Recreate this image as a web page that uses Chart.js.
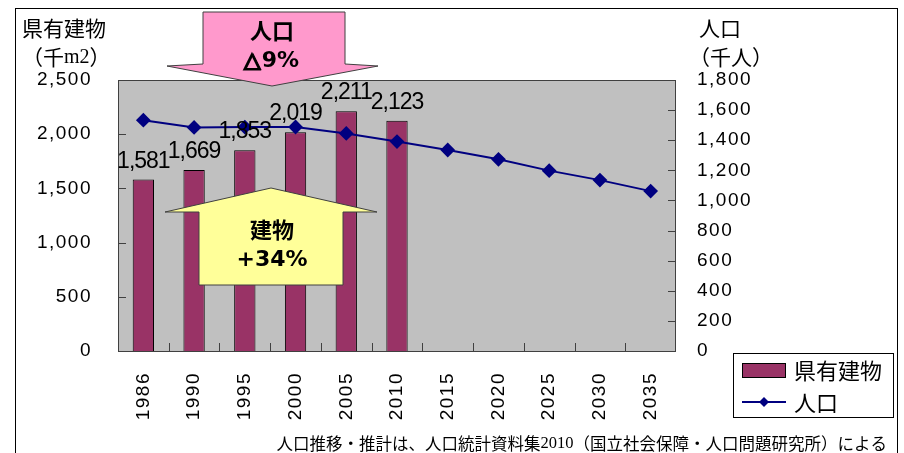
<!DOCTYPE html>
<html>
<head>
<meta charset="utf-8">
<script src="https://cdn.jsdelivr.net/npm/chart.js@4"></script>
<style>
  html, body { margin: 0; padding: 0; background: #fff; }
  #wrap { width: 904px; height: 453px; }
</style>
</head>
<body>
<div id="wrap"><canvas id="grafico" width="904" height="453"></canvas></div>
<script>
const anos = ["1986", "1990", "1995", "2000", "2005", "2010", "2015", "2020", "2025", "2030", "2035"];
const edificios = [1581, 1669, 1853, 2019, 2211, 2123, null, null, null, null, null];
const populacao = [1533, 1485, 1487, 1488, 1445, 1391, 1335, 1273, 1198, 1135, 1062];
const ticksEsq = [0, 500, 1000, 1500, 2000, 2500];
const ticksDir = [0, 200, 400, 600, 800, 1000, 1200, 1400, 1600, 1800];

const JP = '"Noto Sans CJK JP", sans-serif';
const NUM = '"Liberation Sans", Arial, sans-serif';

function seta(ctx, pts, cor) {
    ctx.beginPath();
    ctx.moveTo(pts[0][0], pts[0][1]);
    for (let i = 1; i < pts.length; i++) ctx.lineTo(pts[i][0], pts[i][1]);
    ctx.closePath();
    ctx.fillStyle = cor;
    ctx.fill();
    ctx.strokeStyle = "#404040";
    ctx.lineWidth = 1;
    ctx.stroke();
}

const fundo = {
    id: "fundo",
    beforeDraw(chart) {
        const ctx = chart.ctx;
        const a = chart.chartArea;
        ctx.save();
        ctx.fillStyle = "#fff";
        ctx.fillRect(0, 0, chart.width, chart.height);
        ctx.strokeStyle = "#000";
        ctx.lineWidth = 1;
        ctx.strokeRect(15.5, 8.5, 882, 460);
        ctx.fillStyle = "#C0C0C0";
        ctx.fillRect(a.left, a.top, a.right - a.left, a.bottom - a.top);
        ctx.strokeStyle = "#404040";
        ctx.strokeRect(a.left + 0.5, a.top + 0.5, a.right - a.left - 1, a.bottom - a.top);
        // marcas internas
        ctx.beginPath();
        ticksEsq.forEach(v => {
            const y = Math.round(chart.scales.y.getPixelForValue(v)) + 0.5;
            ctx.moveTo(a.left, y); ctx.lineTo(a.left + 8, y);
        });
        ticksDir.forEach(v => {
            const y = Math.round(chart.scales.y1.getPixelForValue(v)) + 0.5;
            ctx.moveTo(a.right - 8, y); ctx.lineTo(a.right, y);
        });
        const larg = (a.right - a.left) / anos.length;
        for (let i = 1; i < anos.length; i++) {
            const x = Math.round(a.left + i * larg) + 0.5;
            ctx.moveTo(x, a.bottom); ctx.lineTo(x, a.bottom - 8);
        }
        ctx.stroke();
        ctx.restore();
        ctx.letterSpacing = "1.5px";
    },
    afterDatasetsDraw(chart) {
        const ctx = chart.ctx;
        ctx.save();
        ctx.letterSpacing = "0px";
        // setas
        seta(ctx, [[203, 12], [345, 12], [345, 64], [378, 66], [272, 86], [167, 66], [203, 64]], "#FF99CC");
        seta(ctx, [[271, 188], [377, 212], [343, 212], [343, 285], [199, 285], [199, 212], [165, 212]], "#FFFF99");
        ctx.fillStyle = "#000";
        ctx.textAlign = "center";
        ctx.textBaseline = "middle";
        ctx.font = "bold 22px " + JP;
        ctx.fillText("人口", 272, 31);
        ctx.fillText("建物", 272, 230);
        ctx.font = 'bold 22px "DejaVu Sans", sans-serif';
        ctx.lineWidth = 1.2;
        ctx.strokeStyle = "#000";
        ctx.strokeText("△", 252, 61);
        ctx.fillText("△9%", 272, 61);
        ctx.fillText("+34%", 272, 260);

        // rótulos das barras
        const meta = chart.getDatasetMeta(0);
        ctx.font = "23px " + NUM;
        ctx.letterSpacing = "-1px";
        ctx.textBaseline = "alphabetic";
        meta.data.forEach((bar, i) => {
            if (edificios[i] == null) return;
            ctx.fillText(edificios[i].toLocaleString("en-US"), bar.x, bar.y - 12);
        });
        ctx.restore();
    },
    afterDraw(chart) {
        const ctx = chart.ctx;
        ctx.save();
        ctx.letterSpacing = "0px";
        ctx.fillStyle = "#000";
        ctx.textBaseline = "middle";
        ctx.textAlign = "left";
        // títulos dos eixos
        ctx.font = "21px " + JP;
        ctx.fillText("県有建物", 22, 28);
        ctx.fillText("人口", 699, 28);
        let x = 22;
        ctx.fillText("（千", x, 57);
        x += ctx.measureText("（千").width;
        ctx.font = '20px "Liberation Serif", serif';
        ctx.fillText("m2", x, 58);
        x += ctx.measureText("m2").width;
        ctx.font = "21px " + JP;
        ctx.fillText("）", x, 57);
        ctx.fillText("（千人）", 689, 57);

        // legenda
        ctx.strokeStyle = "#000";
        ctx.lineWidth = 1;
        ctx.strokeRect(733.5, 353.5, 160, 64);
        ctx.fillStyle = "#993366";
        ctx.fillRect(742, 363, 43, 14);
        ctx.strokeRect(742.5, 363.5, 43, 14);
        ctx.strokeStyle = "#000080";
        ctx.lineWidth = 2;
        ctx.beginPath();
        ctx.moveTo(742, 402); ctx.lineTo(786, 402);
        ctx.stroke();
        ctx.fillStyle = "#000080";
        ctx.beginPath();
        ctx.moveTo(764, 397); ctx.lineTo(769, 402); ctx.lineTo(764, 407); ctx.lineTo(759, 402);
        ctx.closePath();
        ctx.fill();
        ctx.fillStyle = "#000";
        ctx.font = "22px " + JP;
        ctx.fillText("県有建物", 794, 371);
        ctx.fillText("人口", 794, 403);

        // nota
        const partes = [
            ["人口推移・推計は、人口統計資料集", "16.5px " + JP],
            ["2010", '16.5px "Liberation Serif", serif'],
            ["（国立社会保障・人口問題研究所）による", "16.5px " + JP]
        ];
        let total = 0;
        partes.forEach(p => { ctx.font = p[1]; total += ctx.measureText(p[0]).width; });
        x = 887 - total;
        partes.forEach(p => {
            ctx.font = p[1];
            ctx.fillText(p[0], x, 444);
            x += ctx.measureText(p[0]).width;
        });
        ctx.restore();
    }
};

function criarGrafico() {
    const canvas = document.getElementById("grafico");
    new Chart(canvas, {
        type: "bar",
        data: {
            labels: anos,
            datasets: [
                {
                    label: "県有建物",
                    data: edificios,
                    yAxisID: "y",
                    backgroundColor: "#993366",
                    borderColor: "#000",
                    borderWidth: 1,
                    barPercentage: 0.42,
                    categoryPercentage: 1,
                    order: 2
                },
                {
                    type: "line",
                    label: "人口",
                    data: populacao,
                    yAxisID: "y1",
                    borderColor: "#000080",
                    backgroundColor: "#000080",
                    borderWidth: 2,
                    pointStyle: "rectRot",
                    pointRadius: 6,
                    tension: 0,
                    order: 1
                }
            ]
        },
        options: {
            responsive: false,
            animation: false,
            layout: { padding: { top: 80, left: 0, right: 0, bottom: 0 } },
            plugins: { legend: { display: false }, tooltip: { enabled: false } },
            scales: {
                x: {
                    grid: { display: false, drawTicks: false },
                    border: { display: false },
                    ticks: {
                        color: "#000",
                        font: { family: NUM, size: 19 },
                        minRotation: 90,
                        maxRotation: 90,
                        padding: 21,
                        autoSkip: false
                    },
                    afterFit(s) { s.height = 102; }
                },
                y: {
                    position: "left",
                    min: 0,
                    max: 2500,
                    grid: { display: false, drawTicks: false },
                    border: { display: false },
                    ticks: {
                        stepSize: 500,
                        color: "#000",
                        font: { family: NUM, size: 19 },
                        padding: 26,
                        callback: v => v.toLocaleString("en-US")
                    },
                    afterFit(s) { s.width = 118; }
                },
                y1: {
                    position: "right",
                    min: 0,
                    max: 1800,
                    grid: { display: false, drawTicks: false },
                    border: { display: false },
                    ticks: {
                        stepSize: 200,
                        color: "#000",
                        font: { family: NUM, size: 19 },
                        padding: 21,
                        callback: v => v.toLocaleString("en-US")
                    },
                    afterFit(s) { s.width = 228; }
                }
            }
        },
        plugins: [fundo]
    });
}

window.onload = criarGrafico;
</script>
</body>
</html>
